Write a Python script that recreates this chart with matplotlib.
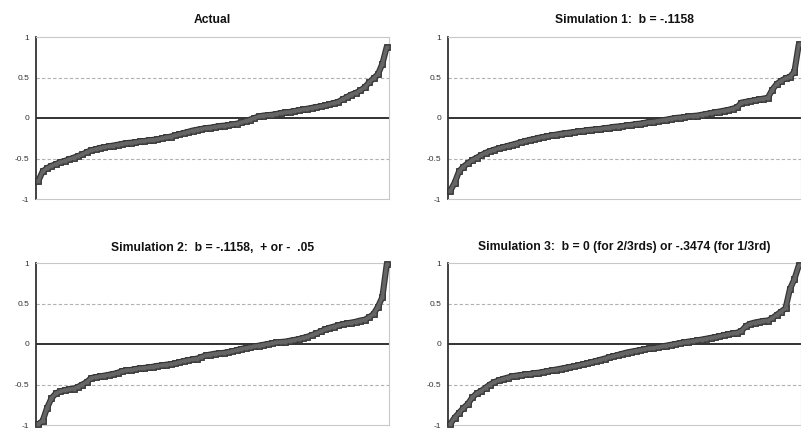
import matplotlib
matplotlib.use("Agg")
import matplotlib.pyplot as plt

plt.rcParams['font.family'] = ['Liberation Sans', 'DejaVu Sans']

titles = [
    "Actual",
    "Simulation 1:  b = -.1158",
    "Simulation 2:  b = -.1158,  + or -  .05",
    "Simulation 3:  b = 0 (for 2/3rds) or -.3474 (for 1/3rd)",
]

actual = [
    -0.78, -0.66, -0.62, -0.59, -0.57, -0.545, -0.53, -0.51, -0.49, -0.47,
    -0.45, -0.42, -0.40, -0.385, -0.37, -0.36, -0.35, -0.34, -0.33, -0.32,
    -0.31, -0.305, -0.30, -0.29, -0.285, -0.275, -0.27, -0.265, -0.25, -0.24,
    -0.23, -0.215, -0.20, -0.185, -0.17, -0.155, -0.145, -0.135, -0.125, -0.12,
    -0.11, -0.10, -0.095, -0.09, -0.08, -0.07, -0.055, -0.035, -0.02, 0.00,
    0.02, 0.03, 0.035, 0.04, 0.05, 0.06, 0.07, 0.075, 0.085, 0.095,
    0.105, 0.115, 0.125, 0.135, 0.145, 0.155, 0.17, 0.185, 0.20, 0.23,
    0.26, 0.29, 0.31, 0.34, 0.38, 0.44, 0.49, 0.54, 0.67, 0.88,
]

sim1 = [
    -0.90, -0.80, -0.66, -0.60, -0.56, -0.52, -0.49, -0.46, -0.43, -0.41,
    -0.39, -0.375, -0.36, -0.345, -0.33, -0.315, -0.30, -0.285, -0.27, -0.26,
    -0.245, -0.235, -0.225, -0.215, -0.205, -0.195, -0.19, -0.18, -0.175, -0.165,
    -0.16, -0.15, -0.145, -0.14, -0.135, -0.125, -0.12, -0.11, -0.105, -0.10,
    -0.09, -0.085, -0.075, -0.07, -0.06, -0.05, -0.045, -0.035, -0.03, -0.02,
    -0.01, 0.00, 0.005, 0.01, 0.02, 0.025, 0.03, 0.04, 0.05, 0.06,
    0.07, 0.08, 0.09, 0.10, 0.115, 0.13, 0.19, 0.20, 0.21, 0.22,
    0.23, 0.24, 0.25, 0.35, 0.42, 0.46, 0.49, 0.51, 0.57, 0.91,
]

sim2 = [
    -0.99, -0.95, -0.79, -0.67, -0.61, -0.585, -0.57, -0.56, -0.55, -0.53,
    -0.50, -0.47, -0.42, -0.41, -0.40, -0.39, -0.38, -0.37, -0.355, -0.335,
    -0.325, -0.32, -0.31, -0.30, -0.295, -0.29, -0.28, -0.27, -0.265, -0.255,
    -0.25, -0.24, -0.225, -0.21, -0.20, -0.19, -0.18, -0.16, -0.14, -0.13,
    -0.12, -0.115, -0.11, -0.10, -0.09, -0.075, -0.06, -0.05, -0.04, -0.03,
    -0.02, -0.01, 0.00, 0.01, 0.02, 0.025, 0.03, 0.04, 0.05, 0.06,
    0.075, 0.09, 0.11, 0.13, 0.155, 0.18, 0.20, 0.215, 0.23, 0.245,
    0.255, 0.265, 0.275, 0.29, 0.30, 0.33, 0.37, 0.46, 0.58, 0.99,
]

sim3 = [
    -0.99, -0.91, -0.85, -0.79, -0.74, -0.66, -0.61, -0.58, -0.54, -0.50,
    -0.47, -0.45, -0.43, -0.415, -0.40, -0.39, -0.385, -0.375, -0.37, -0.36,
    -0.355, -0.345, -0.335, -0.325, -0.315, -0.305, -0.295, -0.285, -0.275, -0.265,
    -0.25, -0.24, -0.225, -0.21, -0.195, -0.18, -0.165, -0.15, -0.135, -0.12,
    -0.105, -0.095, -0.085, -0.075, -0.065, -0.055, -0.05, -0.04, -0.03, -0.02,
    -0.01, 0.00, 0.01, 0.02, 0.03, 0.035, 0.045, 0.055, 0.065, 0.075,
    0.085, 0.095, 0.11, 0.12, 0.13, 0.14, 0.16, 0.22, 0.25, 0.265,
    0.275, 0.285, 0.29, 0.32, 0.36, 0.40, 0.44, 0.68, 0.80, 0.97,
]

series = [actual, sim1, sim2, sim3]
yticks = [-1, -0.5, 0, 0.5, 1]
ytick_labels = ["-1", "-0.5", "0", "0.5", "1"]

W, H = 801, 428
fig = plt.figure(figsize=(W / 100, H / 100), dpi=100)

boxes = [
    (36, 37, 389, 199),
    (448, 37, 801, 199),
    (36, 263, 389, 425),
    (448, 263, 801, 425),
]
pads = [10, 10, 8.6, 9.3]

for k, (vals, title, box) in enumerate(zip(series, titles, boxes)):
    l, t, r, b = box
    ax = fig.add_axes([l / W, 1 - b / H, (r - l) / W, (b - t) / H])
    x = list(range(len(vals)))
    ax.axhline(0.5, color='#b0b0b0', lw=0.8, ls=(0, (3, 2)), zorder=1)
    ax.axhline(-0.5, color='#b0b0b0', lw=0.8, ls=(0, (3, 2)), zorder=1)
    ax.axhline(0, color='#222222', lw=1.3, zorder=2)
    # outline layer
    ax.plot(x, vals, color='#353535', lw=4.4, marker='s', ms=4.4,
            mfc='#353535', mec='#353535', mew=0.6, zorder=3, clip_on=False,
            solid_capstyle='butt')
    # fill layer
    ax.plot(x, vals, color='#656565', lw=2.6, marker='s', ms=3.0,
            mfc='#656565', mec='none', zorder=4, clip_on=False,
            solid_capstyle='butt')
    ax.set_xlim(-0.5, len(vals) - 0.5)
    ax.set_ylim(-1, 1)
    ax.set_yticks(yticks)
    ax.set_yticklabels(ytick_labels)
    ax.set_xticks([])
    ax.tick_params(axis='y', length=0, pad=5, labelsize=6, labelcolor='#333333')
    for s in ['top', 'right', 'bottom']:
        ax.spines[s].set_color('#c8c8c8')
        ax.spines[s].set_linewidth(0.8)
    ax.spines['left'].set_color('#333333')
    ax.spines['left'].set_linewidth(1.3)
    ax.set_title(title, fontsize=8.7, fontweight='bold', pad=pads[k], color='#111111')

fig.savefig('out.png', dpi=100)
